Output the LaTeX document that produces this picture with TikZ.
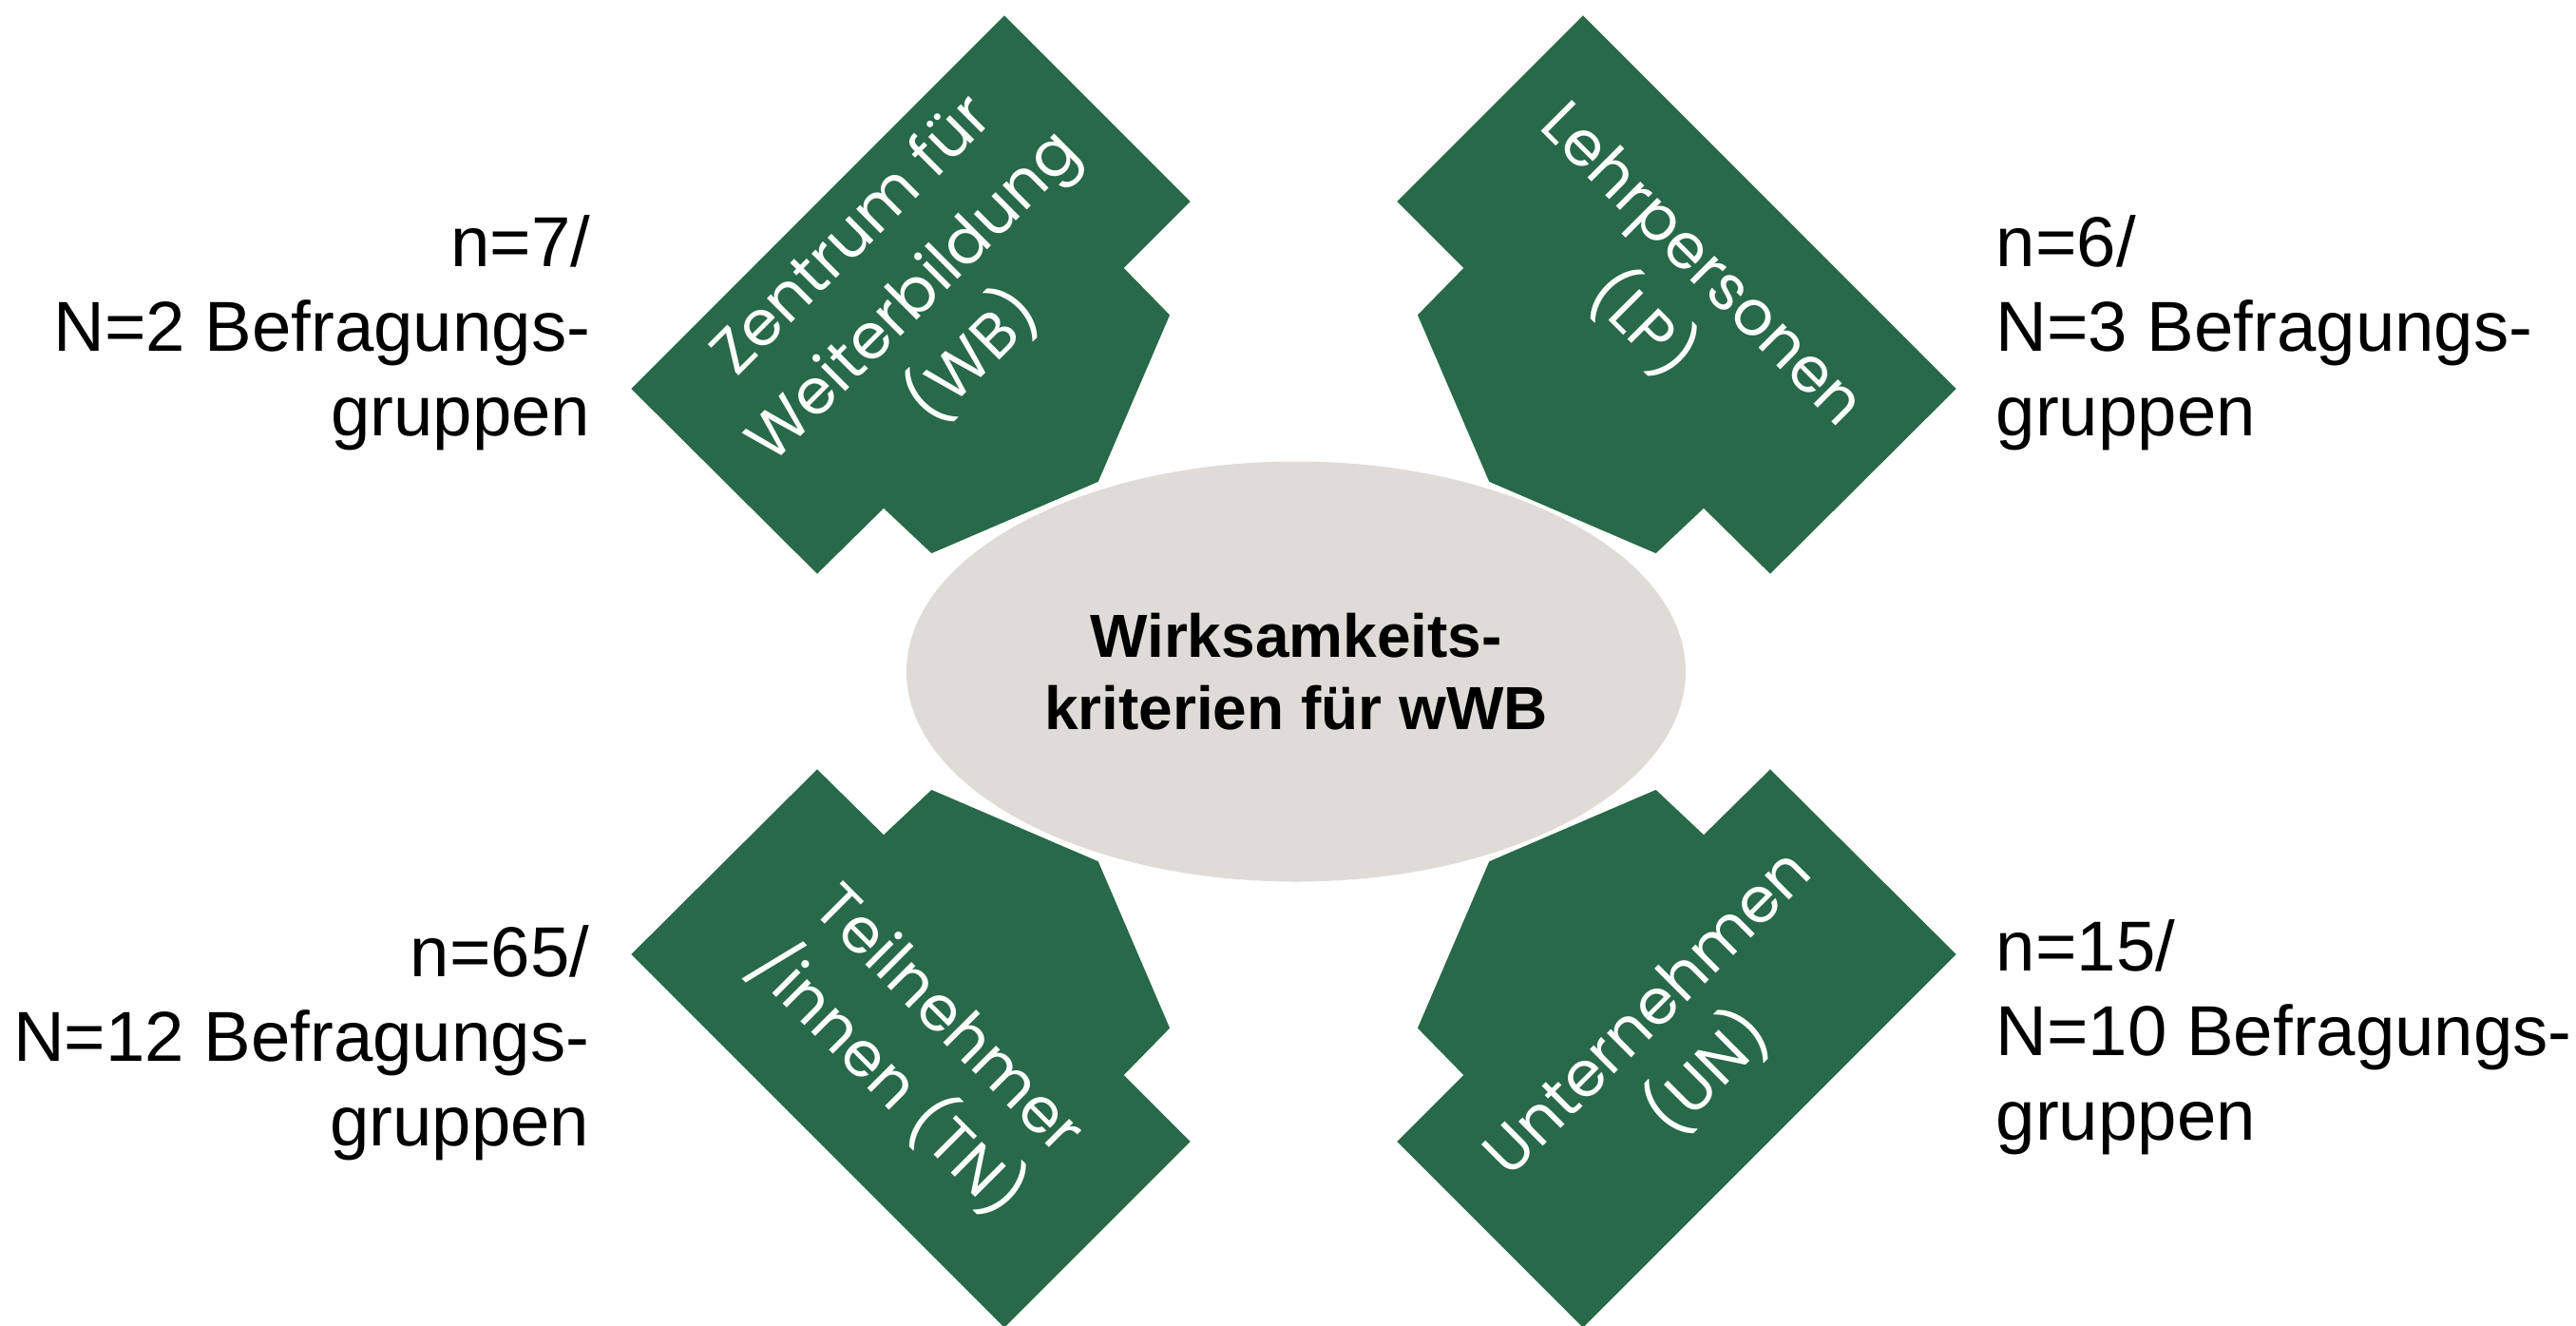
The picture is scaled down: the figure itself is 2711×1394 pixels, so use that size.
\documentclass[tikz,border=0pt]{standalone}
\usepackage{fontspec}
\usetikzlibrary{shapes.geometric}
\newfontfamily\arialf{Liberation Sans}
\newfontfamily\geofont{Poppins}
\definecolor{wgreen}{RGB}{39,105,72}
\definecolor{wgray}{RGB}{223,219,215}
\tikzset{
  piece/.style={fill=wgreen, draw=white, line width=0.75pt, line join=miter},
  hub/.style={ellipse, fill=wgray, draw=none, inner sep=0pt,
    minimum width=205pt, minimum height=110.5pt, align=center,
    font=\arialf\bfseries\fontsize{16}{19}\selectfont},
  sidelabel/.style={inner sep=0pt, font=\arialf\fontsize{18.6}{22.25}\selectfont},
  piecelabel/.style={inner sep=0pt, text=white, align=center,
    font=\geofont\fontsize{16.5}{22.75}\selectfont},
}
\newcommand\drawpiece{%
  \path[piece] (-304.5,-692.5) -- (-106.5,-494.5) -- (-176.5,-424.5) -- (-128.5,-375.5)
    -- (-204.5,-198.5) -- (-381.5,-122.5) -- (-431.5,-169.5) -- (-501.5,-100.5)
    -- (-699.5,-297.5) -- cycle;}
\begin{document}
\begin{tikzpicture}[x=0.25pt,y=-0.25pt]
\useasboundingbox (0,0) rectangle (2711,1394);
\clip (0,0) rectangle (2711,1394);
\coordinate (C) at (1361.5,706.5);
\node[hub] (hubnode) at (1364,706.5) {Wirksamkeits-\\kriterien für wWB};
\begin{scope}[shift={(C)}]\drawpiece\end{scope}
\begin{scope}[shift={(C)}, xscale=-1]\drawpiece\end{scope}
\begin{scope}[shift={(C)}, yscale=-1]\drawpiece\end{scope}
\begin{scope}[shift={(C)}, xscale=-1, yscale=-1]\drawpiece\end{scope}
\node[piecelabel, rotate=45] (wb) at (962,313) {Zentrum für\\Weiterbildung\\(WB)};
\node[piecelabel, rotate=-45] (lp) at (1758,312) {Lehrpersonen\\(LP)};
\node[piecelabel, rotate=-45] (tn) at (965,1106) {Teilnehmer\\/innen (TN)};
\node[piecelabel, rotate=45] (un) at (1768,1100) {Unternehmen\\(UN)};
\node[sidelabel, anchor=base east] (nwb) at (622,280)
  {\begin{tabular}[t]{@{}r@{}}n=7/\\N=2 Befragungs-\\gruppen\end{tabular}};
\node[sidelabel, anchor=base west] (nlp) at (2100,280)
  {\begin{tabular}[t]{@{}l@{}}n=6/\\N=3 Befragungs-\\gruppen\end{tabular}};
\node[sidelabel, anchor=base east] (ntn) at (621,1027)
  {\begin{tabular}[t]{@{}r@{}}n=65/\\N=12 Befragungs-\\gruppen\end{tabular}};
\node[sidelabel, anchor=base west] (nun) at (2100,1021)
  {\begin{tabular}[t]{@{}l@{}}n=15/\\N=10 Befragungs-\\gruppen\end{tabular}};
\end{tikzpicture}
\end{document}
